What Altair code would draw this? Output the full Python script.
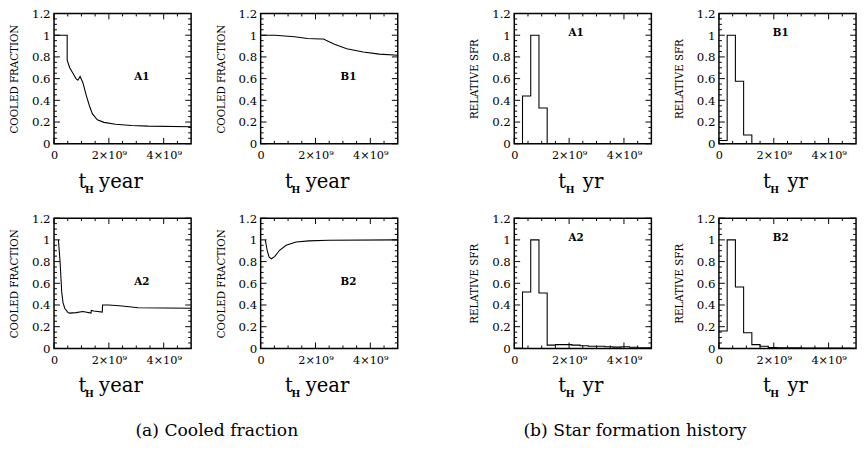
import altair as alt
import pandas as pd

# ---------------- data (time in units of 1e9 years) ----------------
A1_t = [0.0, 0.48, 0.48, 0.57, 0.69, 0.80, 0.87, 0.95, 1.05, 1.17, 1.29, 1.40, 1.58, 1.82, 2.24, 2.83, 3.43, 5.0]
A1_f = [1.0, 1.0, 0.77, 0.70, 0.65, 0.60, 0.585, 0.62, 0.565, 0.45, 0.35, 0.275, 0.22, 0.197, 0.18, 0.168, 0.162, 0.157]

B1_t = [0.0, 0.52, 1.24, 1.71, 2.19, 2.29, 2.67, 3.14, 3.74, 4.33, 5.0]
B1_f = [1.0, 1.0, 0.985, 0.97, 0.965, 0.965, 0.92, 0.875, 0.846, 0.826, 0.815]

A2_t = [0.16, 0.22, 0.28, 0.33, 0.39, 0.51, 0.57, 0.81, 1.05, 1.35, 1.36, 1.45, 1.76, 1.77, 2.0, 2.48, 3.07, 4.02, 5.0]
A2_f = [1.0, 0.80, 0.52, 0.42, 0.37, 0.33, 0.325, 0.33, 0.34, 0.325, 0.35, 0.345, 0.335, 0.40, 0.40, 0.39, 0.375, 0.372, 0.37]

B2_t = [0.17, 0.24, 0.31, 0.39, 0.51, 0.69, 0.93, 1.29, 1.76, 2.48, 5.0]
B2_f = [1.0, 0.90, 0.84, 0.826, 0.846, 0.904, 0.95, 0.98, 0.991, 0.997, 1.0]

SFR_bins = [0.0, 0.3, 0.6, 0.9, 1.2, 1.5, 1.8, 2.1, 2.4, 2.7, 3.0, 3.3, 3.6, 3.9, 4.2, 4.5, 4.8]
SFR_end = 5.0
SFR_A1 = [0.0, 0.44, 1.0, 0.33, 0, 0, 0, 0, 0, 0, 0, 0, 0, 0, 0, 0, 0]
SFR_B1 = [0.03, 1.0, 0.575, 0.08, 0, 0, 0, 0, 0, 0, 0, 0, 0, 0, 0, 0, 0]
SFR_A2 = [0.0, 0.52, 1.0, 0.51, 0.03, 0.035, 0.035, 0.03, 0.025, 0.02, 0.02, 0.015, 0.012, 0.015, 0.01, 0.005, 0.005]
SFR_B2 = [0.16, 1.0, 0.565, 0.145, 0.035, 0.02, 0.008, 0.006, 0.005, 0.005, 0.004, 0.004, 0.004, 0.003, 0.003, 0.003, 0.002]

COOL_LABEL_POS = (3.2, 0.61)
SFR_LABEL_POS = (2.25, 1.02)

X_MAJOR = [0, 2e9, 4e9]
X_MINOR = [5e8, 1e9, 1.5e9, 2.5e9, 3e9, 3.5e9, 4.5e9]
Y_MAJOR = [0, 0.2, 0.4, 0.6, 0.8, 1.0, 1.2]
Y_MINOR = [0.05, 0.1, 0.15, 0.25, 0.3, 0.35, 0.45, 0.5, 0.55,
           0.65, 0.7, 0.75, 0.85, 0.9, 0.95, 1.05, 1.1, 1.15]

FONT = "DejaVu Serif"
W, H = 140, 133
MAJ, MIN = 6, 3

XS = alt.Scale(domain=[0, 5e9], nice=False, zero=False)
YS = alt.Scale(domain=[0, 1.2], nice=False, zero=False)

X_LABEL_EXPR = ("datum.value == 0 ? '0' : datum.value == 2000000000 ? '2×10⁹' : "
                "datum.value == 4000000000 ? '4×10⁹' : ''")

XAX = alt.Axis(values=X_MAJOR, ticks=False, domain=False, grid=False, title=None,
               labelExpr=X_LABEL_EXPR, labelFont=FONT, labelFontSize=11.5,
               labelColor="black", labelPadding=6, labelFlush=False, labelOverlap=False)


def yax(title):
    return alt.Axis(values=Y_MAJOR, ticks=False, domain=False, grid=False,
                    title=title, titleFont=FONT, titleFontSize=10.5,
                    titleFontWeight="normal", titleColor="black", titlePadding=12,
                    labelExpr="format(datum.value, '~g')", labelFont=FONT,
                    labelFontSize=12, labelColor="black", labelPadding=4,
                    labelFlush=False, labelOverlap=False)


def line_df(t, v):
    return pd.DataFrame({"t": [x * 1e9 for x in t], "v": v, "i": list(range(len(t)))})


def step_df(vals):
    t = SFR_bins + [SFR_end]
    v = vals + [vals[-1]]
    return line_df(t, v)


ONE = pd.DataFrame({"a": [0]})


def tick_layers(YAX):
    layers = []
    for vals, L in ((X_MAJOR, MAJ), (X_MINOR, MIN)):
        d = pd.DataFrame({"t": vals})
        for y0, y1 in ((H, H - L), (0, L)):
            layers.append(alt.Chart(d).mark_rule(color="black", strokeWidth=1).encode(
                x=alt.X("t:Q", scale=XS, axis=XAX),
                y=alt.value(y0), y2=alt.value(y1)))
    for vals, L in ((Y_MAJOR, MAJ), (Y_MINOR, MIN)):
        d = pd.DataFrame({"v": vals})
        for x0, x1 in ((0, L), (W, W - L)):
            layers.append(alt.Chart(d).mark_rule(color="black", strokeWidth=1).encode(
                y=alt.Y("v:Q", scale=YS, axis=YAX),
                x=alt.value(x0), x2=alt.value(x1)))
    return layers


def panel(df, interp, name, name_pos, ytitle, word, t_x, h_x, w_x):
    YAX = yax(ytitle)
    curve = alt.Chart(df).mark_line(color="black", strokeWidth=1.1,
                                    interpolate=interp, clip=True).encode(
        x=alt.X("t:Q", scale=XS, axis=XAX),
        y=alt.Y("v:Q", scale=YS, axis=YAX),
        order="i:Q",
    )
    lab_df = pd.DataFrame({"t": [name_pos[0] * 1e9], "v": [name_pos[1]], "txt": [name]})
    lab = alt.Chart(lab_df).mark_text(font=FONT, fontSize=10.5, fontWeight="bold",
                                      color="black").encode(
        x=alt.X("t:Q", scale=XS, axis=XAX),
        y=alt.Y("v:Q", scale=YS, axis=YAX),
        text="txt:N",
    )
    t_mark = alt.Chart(ONE).mark_text(font=FONT, fontSize=20, color="black",
                                      align="center", baseline="alphabetic").encode(
        x=alt.value(t_x), y=alt.value(H + 45), text=alt.value("t"))
    h_mark = alt.Chart(ONE).mark_text(font=FONT, fontSize=9.5, fontWeight="bold",
                                      color="black", align="center",
                                      baseline="alphabetic").encode(
        x=alt.value(h_x), y=alt.value(H + 50), text=alt.value("H"))
    w_mark = alt.Chart(ONE).mark_text(font=FONT, fontSize=20, color="black",
                                      align="left", baseline="alphabetic").encode(
        x=alt.value(w_x), y=alt.value(H + 45), text=alt.value(word))
    return alt.layer(curve, lab, *tick_layers(YAX), t_mark, h_mark, w_mark).properties(
        width=W, height=H)


def cooled(t, f, name):
    return panel(line_df(t, f), "linear", name, COOL_LABEL_POS, "COOLED FRACTION",
                 "year", 29, 36, 46)


def sfr(vals, name):
    return panel(step_df(vals), "step-after", name, SFR_LABEL_POS, "RELATIVE SFR",
                 "yr", 49, 57, 70)


def caption(text, dx):
    return alt.TitleParams(text, orient="bottom", anchor="middle", font=FONT,
                           fontSize=17.5, fontWeight="normal", color="black",
                           offset=23, dx=dx)


pairA1 = alt.hconcat(cooled(A1_t, A1_f, "A1"), cooled(B1_t, B1_f, "B1"), spacing=23)
pairB1 = alt.hconcat(sfr(SFR_A1, "A1"), sfr(SFR_B1, "B1"), spacing=21)
pairA2 = alt.hconcat(cooled(A2_t, A2_f, "A2"), cooled(B2_t, B2_f, "B2"), spacing=23,
                     title=caption("(a) Cooled fraction", 13))
pairB2 = alt.hconcat(sfr(SFR_A2, "A2"), sfr(SFR_B2, "B2"), spacing=21,
                     title=caption("(b) Star formation history", -29))

row1 = alt.hconcat(pairA1, pairB1, spacing=71)
row2 = alt.hconcat(pairA2, pairB2, spacing=71)

chart = alt.vconcat(row1, row2, spacing=16).properties(
    padding={"left": 1, "top": -6, "right": 0, "bottom": 0},
    background="white",
).configure_view(stroke="black", strokeWidth=1.5)

chart.save("out.html", embed_options={"renderer": "svg", "actions": False})
